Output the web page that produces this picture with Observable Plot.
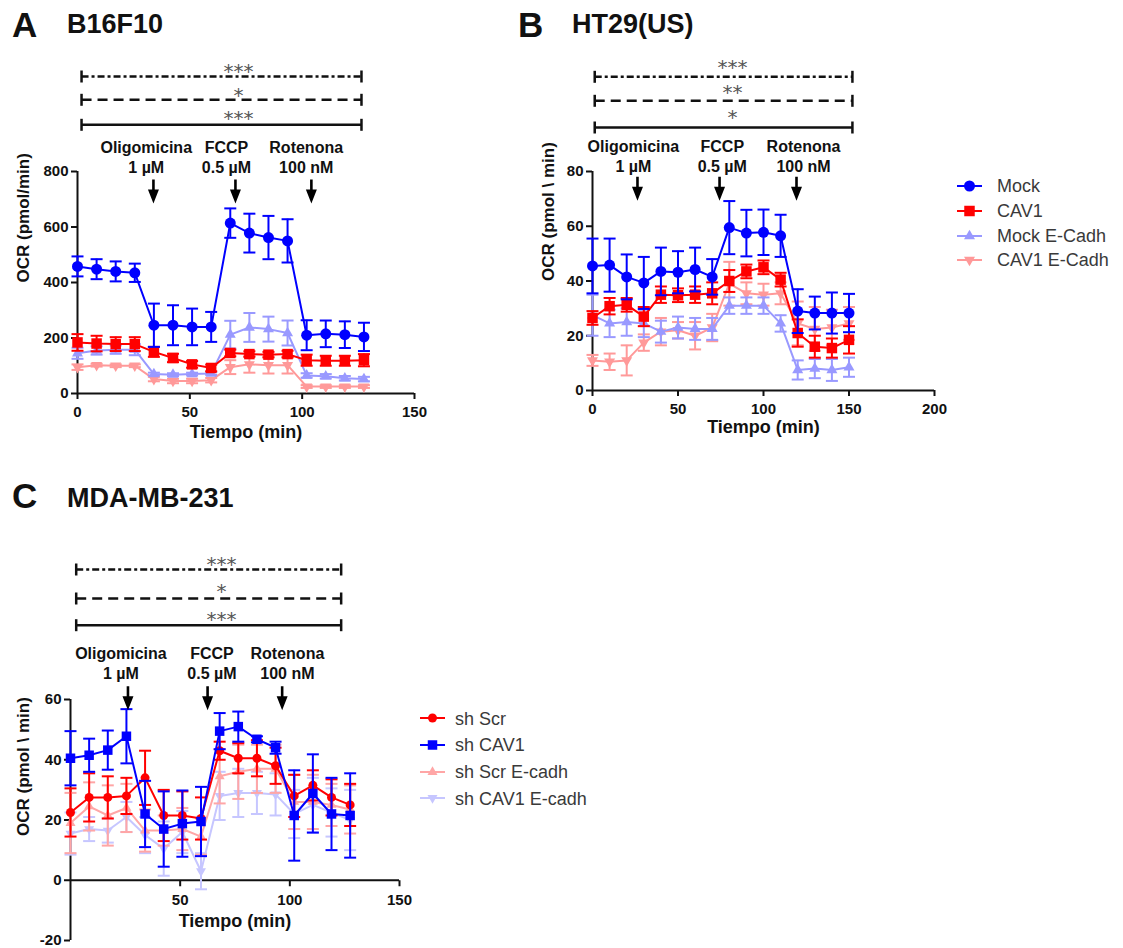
<!DOCTYPE html>
<html><head><meta charset="utf-8">
<script src="https://cdn.jsdelivr.net/npm/d3@7"></script>
<script src="https://cdn.jsdelivr.net/npm/@observablehq/plot@0.6"></script>
<style>
body{margin:0;background:#fff;font-family:"Liberation Sans",Arial,sans-serif;}
#root{position:relative;width:1123px;height:948px;overflow:hidden;background:#fff;}
.abs{position:absolute;line-height:1;white-space:nowrap;}
.letter{font-weight:bold;font-size:35px;color:#111;}
.title{font-weight:bold;font-size:27px;color:#111;}
.leg{font-size:18px;color:#3a3a3a;}
</style></head><body><div id="root"></div>
<script>
// ---------- Panel A: B16F10 ----------
const timeA = [0, 8.5, 17, 25.5, 34, 42.5, 51, 59.5, 68, 76.5, 85, 93.5, 102, 110.5, 119, 127.5];
const mockA = [458, 448, 440, 435, 246, 246, 240, 240, 614, 578, 562, 550, 210, 215, 212, 204];
const mockAErr = [36, 36, 36, 33, 78, 72, 66, 54, 53, 70, 78, 78, 54, 48, 48, 51];
const cav1A = [184, 180, 178, 178, 150, 128, 105, 92, 146, 142, 140, 142, 120, 118, 118, 120];
const cav1AErr = [30, 28, 25, 25, 18, 15, 12, 12, 12, 10, 10, 12, 20, 18, 18, 22];
const mockEA = [145, 155, 158, 158, 70, 68, 70, 72, 212, 238, 232, 218, 65, 62, 55, 52];
const mockEAErr = [20, 15, 15, 20, 5, 5, 5, 5, 50, 52, 45, 45, 8, 8, 8, 8];
const cav1EA = [95, 102, 100, 100, 52, 45, 45, 48, 95, 105, 102, 102, 25, 25, 25, 25];
const cav1EAErr = [10, 5, 5, 5, 8, 8, 8, 8, 25, 30, 30, 30, 5, 5, 5, 5];

// ---------- Panel B: HT29(US) ----------
const timeB = [0, 10, 20, 30, 40, 50, 60, 70, 80, 90, 100, 110, 120, 130, 140, 150];
const mockB = [45.5, 45.8, 41.5, 39.3, 43.5, 43.2, 44.2, 41.5, 59.5, 57.5, 57.8, 56.5, 29, 28.3, 28.3, 28.3];
const mockBErr = [10, 9.7, 8.2, 9.5, 8.7, 7.7, 8, 6.5, 9.7, 8.5, 8.3, 7.7, 8, 6, 7.5, 7];
const cav1B = [26.5, 30.8, 31.3, 27, 35, 34.8, 35, 35.5, 40, 43.5, 45, 40.5, 21, 16, 15.5, 18.5];
const cav1BErr = [2.5, 3, 2.5, 3.5, 3, 2.5, 3, 4, 4, 2.5, 2.5, 2.5, 5, 4, 3.5, 5];
const mockEB = [27.5, 24.5, 25, 24.5, 21.5, 23, 22.5, 22.5, 31, 31, 31, 24.5, 7.5, 8, 7.5, 8.5];
const mockEBErr = [7.5, 5, 5, 5, 4, 4, 4, 4, 3, 3, 3, 3, 3.5, 3.5, 4, 3.5];
const cav1EB = [11, 10.5, 11, 17.5, 21.5, 22, 20, 23, 39, 35.5, 35, 35.5, 24.5, 22.5, 23, 24.5];
const cav1EBErr = [2, 3, 5.5, 3, 5, 3, 5, 5, 8, 4, 4, 4, 8, 8, 6.5, 6];

// ---------- Panel C: MDA-MB-231 ----------
const timeC = [0, 8.5, 17, 25.5, 34, 42.5, 51, 59.5, 68, 76.5, 85, 93.5, 102, 110.5, 119, 127.5];
const shScrC = [22.5, 27.5, 27.5, 28, 34, 21.5, 21.5, 20.5, 43, 40.5, 40.5, 38, 28, 31.5, 27.5, 25];
const shScrCErr = [8, 8, 7, 6, 9, 8.5, 8, 7, 3, 5, 6, 6, 7, 5, 6, 7];
const shCav1C = [40.5, 41.5, 43.2, 47.8, 22, 17, 18.8, 19.5, 49.5, 51, 46.8, 44, 21.5, 28.8, 22, 21.5];
const shCav1CErr = [9, 5.5, 6.5, 9, 11, 12.5, 11, 11.5, 6, 5, 1, 2, 15, 13, 12, 14];
const shScrEC = [19, 24.5, 21.5, 24, 16.5, 16.5, 17, 14.5, 34.5, 36, 37, 37, 26, 26, 25, 23.5];
const shScrECErr = [10, 8, 10, 8, 7, 5, 7, 6, 9, 9, 8, 8, 9, 9, 7, 8];
const shCav1EC = [15.5, 17, 16.5, 21, 15, 10.5, 16, 3, 28, 29, 29, 28.5, 22, 25, 22.5, 20];
const shCav1ECErr = [7, 4, 4, 5, 6, 9, 7, 6, 8, 8, 7, 7, 8, 9, 8, 10];

// ---------- annotations ----------
const treatments = ["Oligomicina\n1 µM", "FCCP\n0.5 µM", "Rotenona\n100 nM"];
const arrowXA = [33.8, 70.3, 104.1], labelXA = [30.6, 66.3, 101.8];
const arrowXB = [26.3, 74.3, 119.3], labelXB = [23.9, 75.9, 123.4];
const arrowXC = [26.2, 62.5, 96.5], labelXC = [23, 64.5, 98.9];
const sigA = ["***", "*", "***"], sigB = ["***", "**", "*"], sigC = ["***", "*", "***"];
const bracketA = [1.8, 126.4], bracketB = [1.3, 152], bracketC = [2.6, 123.4];
const starXA = 71.7, starXB = 81.9, starXC = 68.8;
const legendAB = ["Mock", "CAV1", "Mock E-Cadh", "CAV1 E-Cadh"];
const legendC = ["sh Scr", "sh CAV1", "sh Scr E-cadh", "sh CAV1 E-cadh"];

// ---------- symbols ----------
const capSym = {draw(c){c.moveTo(-6,0);c.lineTo(6,0);}};
const vtickSym = {draw(c){c.moveTo(0,0);c.lineTo(0,6);}};
const vbarSym = {draw(c){c.moveTo(0,-6);c.lineTo(0,6);}};
const arrowSym = {draw(c){c.moveTo(-1.3,-24);c.lineTo(1.3,-24);c.lineTo(1.3,-14);c.lineTo(5.5,-14);c.lineTo(0,0);c.lineTo(-5.5,-14);c.lineTo(-1.3,-14);c.closePath();}};
function circ(r){return {draw(c){c.moveTo(r,0);c.arc(0,0,r,0,2*Math.PI);c.closePath();}};}
function sq(s){const h=s/2;return {draw(c){c.moveTo(-h,-h);c.lineTo(h,-h);c.lineTo(h,h);c.lineTo(-h,h);c.closePath();}};}
function tri(s, down){const h=s*Math.sqrt(3)/2, k=down?-1:1;return {draw(c){c.moveTo(0,-k*h*2/3);c.lineTo(s/2,k*h/3);c.lineTo(-s/2,k*h/3);c.closePath();}};}

const BLUE="#0000ff", RED="#ff0000";
const stylesAB = [
  {color:BLUE, sym:circ(5.5)},
  {color:RED, sym:sq(10.5)},
  {color:"#9999ff", sym:tri(11,false)},
  {color:"#ff9999", sym:tri(11,true)}
];
const stylesC = [
  {color:RED, sym:circ(4.5)},
  {color:BLUE, sym:sq(9.5)},
  {color:"#ffa6a6", sym:tri(10,false)},
  {color:"#c6c6ff", sym:tri(10,true)}
];

function seriesMarks(times, values, errs, st) {
  const data = times.map((t,i)=>({t, v:values[i], e:errs[i]}));
  return [
    Plot.ruleX(data, {x:"t", y1:d=>d.v-d.e, y2:d=>d.v+d.e, stroke:st.color, strokeWidth:2}),
    Plot.dot(data, {x:"t", y:d=>d.v+d.e, symbol:capSym, stroke:st.color, fill:"none", strokeWidth:2}),
    Plot.dot(data, {x:"t", y:d=>d.v-d.e, symbol:capSym, stroke:st.color, fill:"none", strokeWidth:2}),
    Plot.line(data, {x:"t", y:"v", stroke:st.color, strokeWidth:2}),
    Plot.dot(data, {x:"t", y:"v", symbol:st.sym, fill:st.color, stroke:"none"})
  ];
}

function annot(cfg) {
  const m = [];
  const dashes = ["7,3,3,3", "10,6", null];
  cfg.sig.forEach((s,i)=>{
    m.push(Plot.link([0], {x1:()=>cfg.bracket[0], x2:()=>cfg.bracket[1], y1:()=>cfg.ymax, y2:()=>cfg.ymax,
      dy:cfg.lineDy[i], stroke:"#111", strokeWidth:2.5, strokeDasharray:dashes[i]}));
    m.push(Plot.dot(cfg.bracket, {x:d=>d, y:()=>cfg.ymax, dy:cfg.lineDy[i], symbol:vbarSym, stroke:"#111", fill:"none", strokeWidth:2.5}));
    m.push(Plot.text([s], {text:d=>d, x:()=>cfg.starX, y:()=>cfg.ymax, dy:cfg.starDy[i]+4.6,
      fontFamily:"DejaVu Sans", fontSize:20, fontWeight:"normal", fill:"#555"}));
  });
  m.push(Plot.text(treatments, {text:d=>d, x:(d,i)=>cfg.labelX[i], y:()=>cfg.ymax, dy:cfg.labelDy, fontSize:16, lineHeight:1.25, fill:"#111"}));
  m.push(Plot.dot(cfg.arrowX, {x:d=>d, y:()=>cfg.ymax, dy:cfg.arrowDy, symbol:arrowSym, fill:"#000", stroke:"none"}));
  return m;
}

const plotStyle = {fontFamily:"'Liberation Sans', Arial, sans-serif", fontWeight:"bold", overflow:"visible", background:"transparent", color:"#111"};

function panel(o) {
  const marks = [];
  if (o.customX) {
    marks.push(Plot.ruleY([0], {strokeWidth:2}));
    marks.push(Plot.dot(o.xticks, {x:d=>d, y:()=>0, symbol:vtickSym, stroke:"#111", fill:"none", strokeWidth:2}));
    marks.push(Plot.text(o.xticks, {x:d=>d, y:()=>0, text:d=>String(d), dy:20, fontSize:15}));
    marks.push(Plot.text([o.xlabel], {text:d=>d, frameAnchor:"bottom", dy:o.xlabelDy, fontSize:18}));
  } else {
    marks.push(Plot.axisX({ticks:o.xticks, tickSize:6, tickPadding:7, fontSize:15, strokeWidth:2, label:null, tickFormat:d=>String(d)}));
    marks.push(Plot.ruleY([o.ydomain[0]], {strokeWidth:2}));
    marks.push(Plot.text([o.xlabel], {text:d=>d, frameAnchor:"bottom", dy:o.xlabelDy, fontSize:18}));
  }
  marks.push(Plot.axisY({ticks:o.yticks, tickSize:6, tickPadding:3, fontSize:15, strokeWidth:2, label:null, tickFormat:d=>String(d)}));
  marks.push(Plot.ruleX([0], {strokeWidth:2}));
  marks.push(Plot.text([o.ylabel], {text:d=>d, frameAnchor:"left", rotate:-90, dx:o.ylabelDx, dy:o.ylabelDy||0, fontSize:17}));
  o.series.forEach(s=>marks.push(...seriesMarks(o.times, s.values, s.errs, s.style)));
  marks.push(...annot(o.ann));
  return Plot.plot({
    width:o.width, height:o.height,
    marginLeft:o.ml, marginRight:o.mr, marginTop:o.mt, marginBottom:o.mb,
    style:plotStyle,
    x:{domain:o.xdomain, axis:null},
    y:{domain:o.ydomain, axis:null},
    marks
  });
}

const root = document.getElementById("root");
function place(node, left, top){const d=document.createElement("div");d.className="abs";d.style.left=left+"px";d.style.top=top+"px";d.appendChild(node);root.appendChild(d);return d;}
function txt(s, cls, left, baseline, size){const d=document.createElement("div");d.className="abs "+cls;d.textContent=s;d.style.left=left+"px";d.style.top=(baseline-0.8465*size)+"px";root.appendChild(d);}

// Panel A
place(panel({
  width:440, height:450, ml:77, mr:26, mt:171, mb:57,
  xdomain:[0,150], ydomain:[0,800], xticks:[0,50,100,150], yticks:[0,200,400,600,800],
  xlabel:"Tiempo (min)", xlabelDy:44, ylabel:"OCR (pmol/min)", ylabelDx:-53.5,
  times:timeA,
  series:[
    {values:cav1EA, errs:cav1EAErr, style:stylesAB[3]},
    {values:mockEA, errs:mockEAErr, style:stylesAB[2]},
    {values:cav1A, errs:cav1AErr, style:stylesAB[1]},
    {values:mockA, errs:mockAErr, style:stylesAB[0]}
  ],
  ann:{ymax:800, bracket:bracketA, sig:sigA, starX:starXA, lineDy:[-95,-71.7,-46.7], starDy:[-104.3,-81,-57.7],
       labelX:labelXA, labelDy:-15.2, arrowX:arrowXA, arrowDy:32}
}), 0, 0);

// Panel B
place(panel({
  width:440, height:450, ml:72, mr:26, mt:171, mb:60,
  xdomain:[0,200], ydomain:[0,80], xticks:[0,50,100,150,200], yticks:[0,20,40,60,80],
  xlabel:"Tiempo (min)", xlabelDy:42, ylabel:"OCR (pmol \\ min)", ylabelDx:-43.5,
  times:timeB,
  series:[
    {values:cav1EB, errs:cav1EBErr, style:stylesAB[3]},
    {values:mockEB, errs:mockEBErr, style:stylesAB[2]},
    {values:cav1B, errs:cav1BErr, style:stylesAB[1]},
    {values:mockB, errs:mockBErr, style:stylesAB[0]}
  ],
  ann:{ymax:80, bracket:bracketB, sig:sigB, starX:starXB, lineDy:[-94.7,-70.7,-44], starDy:[-109,-83.2,-58.2],
       labelX:labelXB, labelDy:-15.8, arrowX:arrowXB, arrowDy:29.3}
}), 520, 0);

// Panel C
place(panel({
  width:440, height:468, ml:70, mr:41, mt:219, mb:8, customX:true,
  xdomain:[0,150], ydomain:[-20,60], xticks:[50,100,150], yticks:[-20,0,20,40,60],
  xlabel:"Tiempo (min)", xlabelDy:-13.5, ylabel:"OCR (pmol \\ min)", ylabelDx:-47, ylabelDy:16,
  times:timeC,
  series:[
    {values:shCav1EC, errs:shCav1ECErr, style:stylesC[3]},
    {values:shScrEC, errs:shScrECErr, style:stylesC[2]},
    {values:shScrC, errs:shScrCErr, style:stylesC[0]},
    {values:shCav1C, errs:shCav1CErr, style:stylesC[1]}
  ],
  ann:{ymax:60, bracket:bracketC, sig:sigC, starX:starXC, lineDy:[-130,-101,-74.3], starDy:[-139.3,-112.6,-84.3],
       labelX:labelXC, labelDy:-36.8, arrowX:arrowXC, arrowDy:10.7}
}), 0, 480);

// Titles
txt("A","letter",12,36.7,35); txt("B16F10","title",67,34.3,27);
txt("B","letter",518,36.7,35); txt("HT29(US)","title",572,34.3,27);
txt("C","letter",12,507.3,35); txt("MDA-MB-231","title",67,508.3,27);

// Legends
function legend(names, styles, symLeft, textLeft, centers){
  names.forEach((n,i)=>{
    const st = styles[i];
    const svg = d3.create("svg").attr("width",30).attr("height",20);
    svg.append("line").attr("x1",2).attr("x2",27).attr("y1",10).attr("y2",10).attr("stroke",st.color).attr("stroke-width",2);
    svg.append("path").attr("transform","translate(14.5,10)").attr("d",d3.symbol().type(st.sym)()).attr("fill",st.color);
    place(svg.node(), symLeft-2, centers[i]-10);
    const d=document.createElement("div");d.className="abs leg";d.textContent=n;
    d.style.left=textLeft+"px";d.style.top=(centers[i]-8.8)+"px";root.appendChild(d);
  });
}
legend(legendAB, stylesAB, 957, 997, [186,210.7,236,260]);
legend(legendC, stylesC, 420, 455, [718.3,745,771.7,798.3]);
</script></body></html>
